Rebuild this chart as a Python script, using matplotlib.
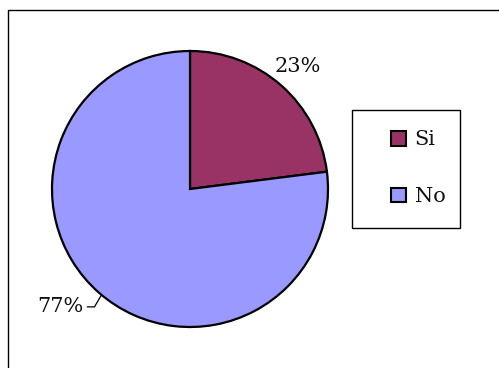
import numpy as np
import matplotlib
matplotlib.use("Agg")
import matplotlib.pyplot as plt
from matplotlib.patches import Patch, Rectangle

# Survey answers
labels = ["Si", "No"]
values = [23, 77]
pct_labels = ["23%", "77%"]
colors = ["#993366", "#9999FF"]

W, H = 499, 368
plt.rcParams["font.family"] = ["DejaVu Serif"]

fig = plt.figure(figsize=(W / 100, H / 100), dpi=100)
ax = fig.add_axes([0, 0, 1, 1])

cx, cy, r = 190, H - 189, 138
wedges, _ = ax.pie(values, colors=colors, startangle=90, counterclock=False,
                   center=(cx, cy), radius=r,
                   wedgeprops=dict(edgecolor="black", linewidth=1.6))
ax.set_xlim(0, W)
ax.set_ylim(0, H)
ax.set_aspect("equal")
ax.axis("off")

fs = 15
# 23% label placed outside along the wedge's mid-angle
w = wedges[0]
mid = np.deg2rad((w.theta1 + w.theta2) / 2)
ax.text(cx + 1.18 * r * np.cos(mid), cy + 1.18 * r * np.sin(mid), pct_labels[0],
        ha="center", va="center", fontsize=fs, color="#111111")

# 77% label with a short leader line
w = wedges[1]
mid = np.deg2rad((w.theta1 + w.theta2) / 2 + 1.5)
ex, ey = cx + r * np.cos(mid), cy + r * np.sin(mid)
corner = (ex - 7, ey - 12)
end = (corner[0] - 7, corner[1])
ax.plot([ex, corner[0], end[0]], [ey, corner[1], end[1]], color="black", lw=0.9)
ax.text(end[0] - 4, end[1], pct_labels[1], ha="right", va="center",
        fontsize=fs, color="#111111")

# Legend frame and entries
ax.add_patch(Rectangle((352.5, H - 227.5), 108, 118, facecolor="white",
                       edgecolor="black", linewidth=1.0, zorder=3))
handles = [Patch(facecolor=c, edgecolor="black", linewidth=1.5) for c in colors]
leg = ax.legend(handles, labels, loc="upper left",
                bbox_to_anchor=(381, H - 120), bbox_transform=ax.transData,
                frameon=False, fontsize=fs, borderpad=0, handlelength=0.72,
                handleheight=0.72, handletextpad=0.4, labelspacing=1.82)
for t in leg.get_texts():
    t.set_color("#111111")
leg.set_zorder(4)

# Outer chart border
ax.add_patch(Rectangle((8.5, -20), 600, H - 9.5 + 20, facecolor="none",
                       edgecolor="black", linewidth=1.0, clip_on=False))

fig.savefig("out.png", dpi=100)
